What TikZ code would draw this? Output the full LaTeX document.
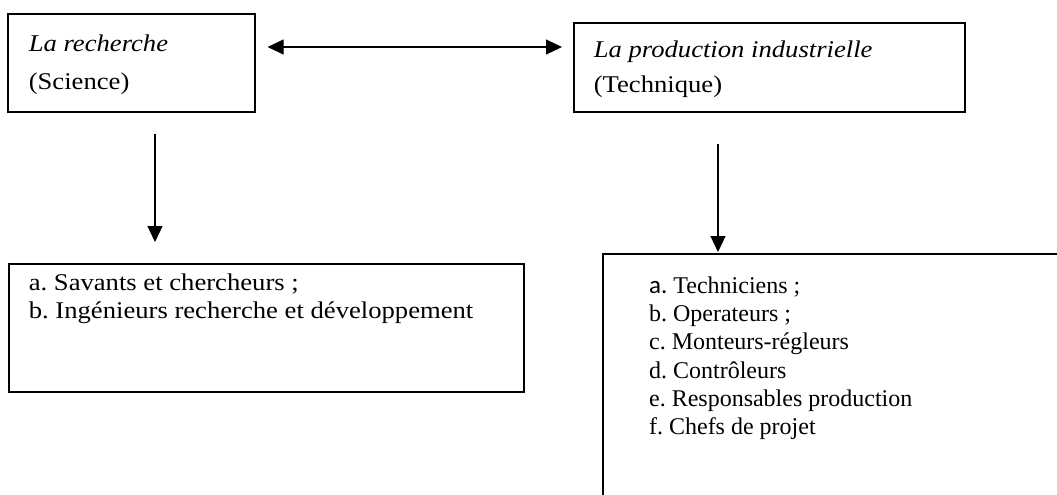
\documentclass[tikz,border=0pt]{standalone}
\usepackage{fontspec}
\setmainfont[FakeStretch=1.11]{Liberation Serif}
\newfontfamily\plainserif{Liberation Serif}
\newfontfamily\calibfont{Carlito}
\usetikzlibrary{arrows.meta}
\newcommand\boxbody[7]{\parbox[c][#2][t]{#1}{\raggedright\frenchspacing#7\fontsize{12pt}{#5}\selectfont\leftskip=#3\relax\parindent=0pt\vspace*{\dimexpr#4-\ht\strutbox\relax}\strut #6}}
\begin{document}
\begin{tikzpicture}[x=0.5pt,y=-0.5pt,
  boxstyle/.style={draw, line width=0.8pt, inner sep=0pt, anchor=north west},
  arrowline/.style={line width=0.6pt, -{Triangle[length=8pt,width=7.5pt]}},
  dblarrow/.style={line width=0.6pt, {Triangle[length=8pt,width=7.5pt]}-{Triangle[length=8pt,width=7.5pt]}}]
\useasboundingbox (0,0) rectangle (1057,494);
\clip (0,0) rectangle (1057,494);
\node[boxstyle] (rech) at (7,13)
  {\boxbody{123.5pt}{49pt}{10.5pt}{19pt}{19pt}{\textit{La recherche}\\(Science)}{}};
\node[boxstyle] (prod) at (573,22)
  {\boxbody{195.5pt}{44.5pt}{10pt}{17.5pt}{17.5pt}{\textit{La production industrielle}\\(Technique)}{}};
\node[boxstyle] (rlist) at (8,263)
  {\boxbody{257.5pt}{64pt}{10pt}{13.25pt}{14pt}{a. Savants et chercheurs ;\\b. Ingénieurs recherche et développement}{}};
\node[boxstyle, line width=1.1pt] (plist) at (602,253)
  {\boxbody{235pt}{130pt}{23pt}{19.5pt}{14.15pt}{{\calibfont\fontsize{12.5pt}{14.15pt}\selectfont a.} Techniciens ;\\b. Operateurs ;\\c. Monteurs-régleurs\\d. Contrôleurs\\e. Responsables production\\f. Chefs de projet}{\plainserif}};
\coordinate (hy) at (0,47);
\coordinate (lx) at (155,0);
\coordinate (rx) at (718,0);
\draw[dblarrow, shorten <=6pt, shorten >=5.5pt] (rech.east |- hy) -- (prod.west |- hy);
\draw[arrowline, shorten <=10.5pt, shorten >=10.5pt] (rech.south -| lx) -- (rlist.north -| lx);
\draw[arrowline, shorten <=15.5pt, shorten >=0.5pt] (prod.south -| rx) -- (plist.north -| rx);
\end{tikzpicture}
\end{document}
